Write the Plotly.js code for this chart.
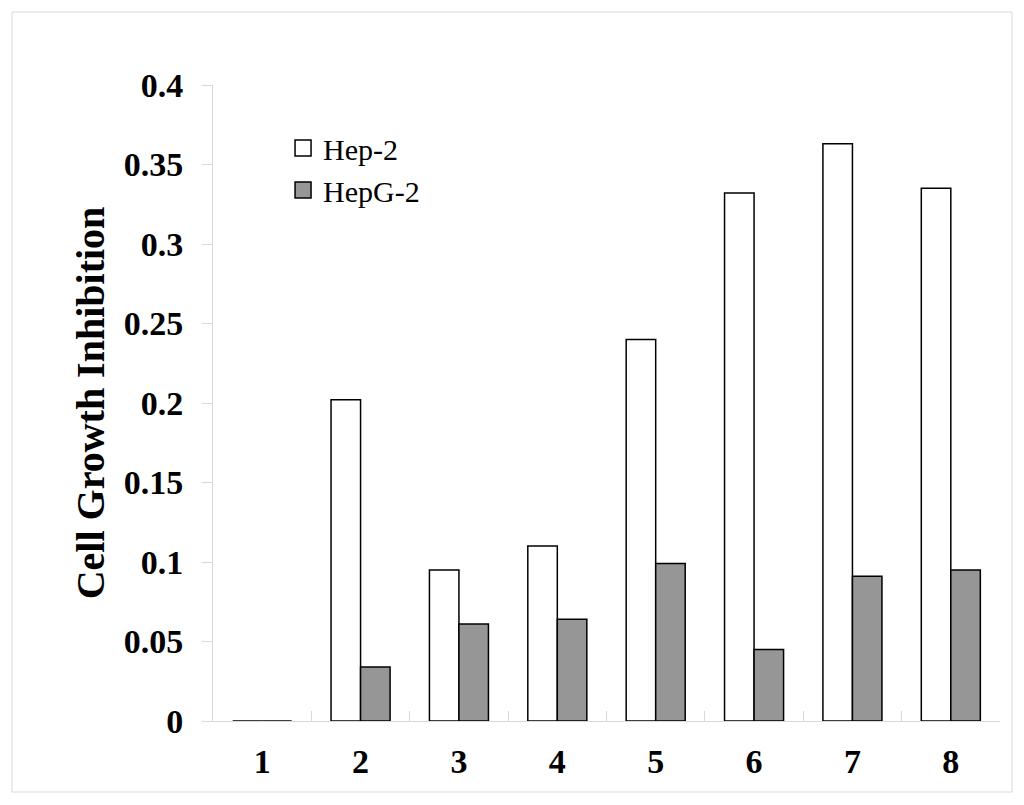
<!DOCTYPE html>
<html>
<head>
<meta charset="utf-8">
<script src="https://cdn.plot.ly/plotly-3.0.1.min.js"></script>
<style>html,body{margin:0;padding:0;background:#fff}</style>
</head>
<body>
<div id="chart" style="width:1024px;height:805px"></div>
<script>
const categories = ["1", "2", "3", "4", "5", "6", "7", "8"];
const hep2 = [0, 0.202, 0.095, 0.110, 0.240, 0.332, 0.363, 0.335];
const hepg2 = [0, 0.034, 0.061, 0.064, 0.099, 0.045, 0.091, 0.095];
const seriesNames = ["Hep-2", "HepG-2"];
const seriesColors = ["#ffffff", "#969696"];
const yTicks = [0, 0.05, 0.1, 0.15, 0.2, 0.25, 0.3, 0.35, 0.4];
const yTickText = ["0", "0.05", "0.1", "0.15", "0.2", "0.25", "0.3", "0.35", "0.4"];

const font = "Liberation Serif, Times New Roman, serif";
const seriesValues = [hep2, hepg2];
const traces = seriesValues.map((vals, i) => ({
  type: "bar", name: seriesNames[i], x: categories, y: vals, showlegend: false,
  legendgroup: "g" + i,
  marker: {color: seriesColors[i], line: {color: "#000000", width: 1.5}}
}));
// legend-only entries with larger square symbols
seriesNames.forEach((n, i) => traces.push({
  type: "scatter", mode: "markers", name: n, x: [null], y: [null],
  legendgroup: "g" + i, hoverinfo: "skip",
  marker: {symbol: "square", size: 21, color: seriesColors[i], line: {color: "#000", width: 1.5}}
}));

const layout = {
  width: 1024, height: 805,
  margin: {l: 213, r: 24, t: 85, b: 84},
  paper_bgcolor: "#ffffff", plot_bgcolor: "#ffffff",
  barmode: "group", bargap: 0.4, bargroupgap: 0,
  showlegend: true,
  legend: {x: 0.089, y: 0.942, xanchor: "left", yanchor: "top",
           font: {family: font, size: 30, color: "#000"},
           bgcolor: "rgba(0,0,0,0)", tracegroupgap: 0, itemwidth: 30, itemsizing: "trace"},
  xaxis: {type: "category", showgrid: false, zeroline: false,
          showline: true, linecolor: "#d9d9d9", linewidth: 1,
          ticks: "inside", tickson: "boundaries", ticklen: 10, tickcolor: "#d9d9d9",
          tickfont: {family: font, size: 34, color: "#000", weight: "bold"},
          ticklabelstandoff: 10},
  yaxis: {range: [0, 0.4], tickvals: yTicks, ticktext: yTickText,
          showgrid: false, zeroline: false,
          showline: true, linecolor: "#d9d9d9", linewidth: 1,
          ticks: "outside", ticklen: 10, tickcolor: "#d9d9d9",
          tickfont: {family: font, size: 34, color: "#000", weight: "bold"},
          ticklabelstandoff: 12,
          title: {text: "Cell Growth Inhibition", standoff: 6,
                  font: {family: font, size: 40, color: "#000", weight: "bold"}}},
  shapes: [{type: "rect", xref: "paper", yref: "paper",
            x0: -0.2554, x1: 1.0153, y0: -0.1116, y1: 1.1148,
            line: {color: "#d9d9d9", width: 1}, fillcolor: "rgba(0,0,0,0)"}]
};
Plotly.newPlot("chart", traces, layout, {displayModeBar: false, staticPlot: true});
</script>
</body>
</html>
